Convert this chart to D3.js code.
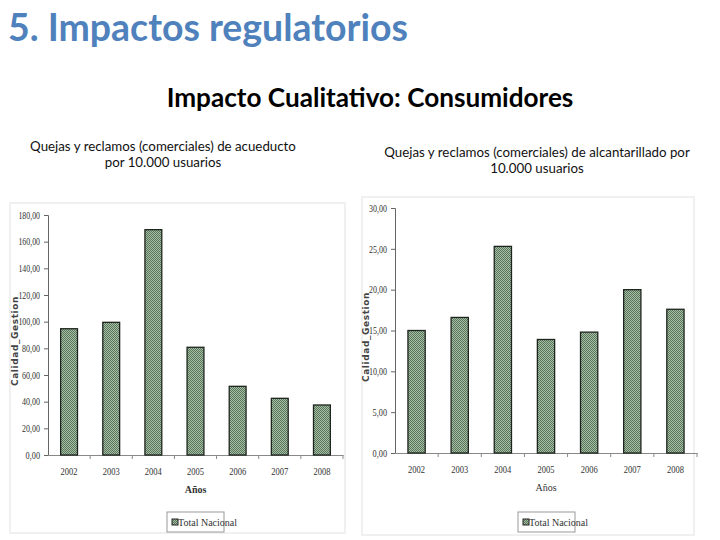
<!DOCTYPE html>
<html><head><meta charset="utf-8">
<script src="https://cdn.jsdelivr.net/npm/d3@7"></script>
<style>body{margin:0;background:#fff}svg{display:block}</style>
</head><body>
<script>
const years = ["2002","2003","2004","2005","2006","2007","2008"];
const acueducto = [94.7, 99.5, 169.0, 80.8, 51.5, 42.5, 37.5];
const alcantarillado = [15.0, 16.6, 25.3, 13.9, 14.8, 20.0, 17.6];
const ticksLeft = [0,20,40,60,80,100,120,140,160,180];
const ticksRight = [0,5,10,15,20,25,30];
const mainTitle = "5. Impactos regulatorios";
const subTitle = "Impacto Cualitativo: Consumidores";
const titleLeft = ["Quejas y reclamos (comerciales) de acueducto","por 10.000 usuarios"];
const titleRight = ["Quejas y reclamos (comerciales) de alcantarillado por","10.000 usuarios"];
const yLabel = "Calidad_Gestion";
const xLabel = "Años";
const legendLabel = "Total Nacional";

const svg = d3.select("body").append("svg").attr("width",720).attr("height",540);
const defs = svg.append("defs");
const pat = defs.append("pattern").attr("id","hatch").attr("patternUnits","userSpaceOnUse")
  .attr("width",2).attr("height",2);
pat.append("rect").attr("width",2).attr("height",2).attr("fill","#a9bfa5");
pat.append("rect").attr("width",1).attr("height",1).attr("fill","#56755a");
pat.append("rect").attr("x",1).attr("y",1).attr("width",1).attr("height",1).attr("fill","#56755a");

const sans = "Lato, 'Open Sans', sans-serif";
function fit(sel, width){
  const w = sel.node().getComputedTextLength();
  const fs = +sel.attr("font-size");
  sel.attr("font-size", fs*width/w);
}
fit(svg.append("text").attr("x",8).attr("y",41).text(mainTitle)
  .attr("font-family",sans).attr("font-size",34).attr("fill","#4f81bd").attr("font-weight","bold"), 400);
fit(svg.append("text").attr("x",370).attr("y",107).attr("text-anchor","middle").text(subTitle)
  .attr("font-family",sans).attr("font-size",24).attr("font-weight","bold").attr("fill","#000"), 407);

function drawTitle(lines, cx, y0){
  lines.forEach((l,i)=>{
    svg.append("text").attr("x",cx).attr("y",y0+i*16).attr("text-anchor","middle")
      .attr("font-family",sans).attr("font-size",13.3).attr("fill","#111").text(l);
  });
}
drawTitle(titleLeft, 163, 151);
drawTitle(titleRight, 537, 157);

function chart(cfg){
  const g = svg.append("g");
  g.append("rect").attr("x",cfg.frame[0]).attr("y",cfg.frame[1]).attr("width",cfg.frame[2]).attr("height",cfg.frame[3])
    .attr("fill","#fff").attr("stroke","#f0f0f0").attr("stroke-width",2);
  const x = d3.scaleBand().domain(years).range([cfg.x0,cfg.x1]).paddingInner(0.6).paddingOuter(0.3);
  const y = d3.scaleLinear().domain([0,cfg.max]).range([cfg.y0,cfg.y1]);
  const serif = "'Liberation Serif', 'DejaVu Serif', serif";
  const ya = g.append("g").attr("transform",`translate(${cfg.x0},0)`)
    .call(d3.axisLeft(y).tickValues(cfg.ticks).tickSize(4).tickPadding(4)
      .tickFormat(d=>d3.format(".2f")(d).replace(".",",")));
  ya.selectAll("text").attr("font-family",serif).attr("font-size",10).attr("fill","#333")
    .attr("textLength",function(){return this.textContent.length*3.6;}).attr("lengthAdjust","spacingAndGlyphs");
  ya.select(".domain").attr("stroke","#666");
  ya.selectAll(".tick line").attr("stroke","#666");
  const xa = g.append("g").attr("transform",`translate(0,${cfg.y0})`)
    .call(d3.axisBottom(x).tickSize(0).tickPadding(13));
  xa.selectAll("text").attr("font-family",serif).attr("font-size",10).attr("fill","#333")
    .attr("textLength",17).attr("lengthAdjust","spacingAndGlyphs");
  xa.select(".domain").attr("stroke","#888");
  const stepW = (cfg.x1-cfg.x0)/years.length;
  g.selectAll(".xt").data(years).enter().append("line")
    .attr("x1",(d,i)=>cfg.x0+(i+1)*stepW).attr("x2",(d,i)=>cfg.x0+(i+1)*stepW)
    .attr("y1",cfg.y0).attr("y2",cfg.y0+4).attr("stroke","#888");
  g.selectAll(".bar").data(cfg.values).enter().append("rect")
    .attr("x",(d,i)=>x(years[i])).attr("width",x.bandwidth())
    .attr("y",d=>y(d)).attr("height",d=>cfg.y0-y(d))
    .attr("fill","url(#hatch)").attr("stroke","#1e241e").attr("stroke-width",1.3);
  g.append("text").attr("x",(cfg.x0+cfg.x1)/2).attr("y",cfg.y0+38).attr("text-anchor","middle")
    .attr("font-family",serif).attr("font-size",10).attr("font-weight",cfg.xBold?"bold":"normal").attr("fill","#333").text(xLabel);
  g.append("text").attr("transform",`translate(${cfg.yLabX},${cfg.yLabY}) rotate(-90)`).attr("text-anchor","middle")
    .attr("font-family","'DejaVu Sans', sans-serif").attr("font-size",9).attr("letter-spacing",0.6)
    .attr("font-weight","bold").attr("fill","#444").text(yLabel);
  const lg = g.append("g").attr("transform",`translate(${cfg.leg[0]},${cfg.leg[1]})`);
  lg.append("rect").attr("width",cfg.leg[2]).attr("height",20).attr("fill","#fff").attr("stroke","#999");
  lg.append("rect").attr("x",5).attr("y",7).attr("width",6).attr("height",6).attr("fill","url(#hatch)").attr("stroke","#222");
  lg.append("text").attr("x",11).attr("y",14).attr("font-family",serif).attr("font-size",10).attr("fill","#333").text(legendLabel);
}

chart({frame:[10,203,335,330], x0:48, x1:343, y0:455, y1:215, max:180, ticks:ticksLeft, values:acueducto,
  yLabX:18, yLabY:341, leg:[167,512,57], xBold:true});
chart({frame:[362,197,332,338], x0:395, x1:697, y0:453, y1:208, max:30, ticks:ticksRight, values:alcantarillado,
  yLabX:369, yLabY:337, leg:[518,512,57], xBold:false});
</script>
</body></html>
